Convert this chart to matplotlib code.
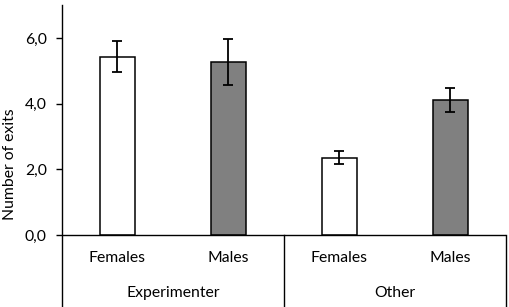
import matplotlib
matplotlib.use('Agg')
import matplotlib.pyplot as plt

# values
groups = ['Experimenter', 'Other']
sexes = ['Females', 'Males', 'Females', 'Males']
means = [5.44, 5.27, 2.36, 4.12]
errors = [0.48, 0.70, 0.20, 0.37]
bar_colors = ['white', '#808080', 'white', '#808080']
y_ticks = [0, 2, 4, 6]
y_tick_labels = ['0,0', '2,0', '4,0', '6,0']

plt.rcParams['font.family'] = ['Lato', 'DejaVu Sans']
fs = 11.3

W, H = 510, 307
fig = plt.figure(figsize=(W / 100, H / 100), dpi=100)

px_per_unit = 32.8
zero_px = 235  # pixel row of y=0 from top
y_top = 7.0
y_bottom = -(H - zero_px) / px_per_unit
top_px = zero_px - y_top * px_per_unit

ax = fig.add_axes([62 / W, 0, 444 / W, (H - top_px) / H])
x = list(range(len(means)))

ax.bar(x, means, width=0.315, color=bar_colors, edgecolor='black', linewidth=1.1, zorder=2)
ax.errorbar(x, means, yerr=errors, fmt='none', ecolor='black', elinewidth=1.3,
            capsize=3.3, capthick=1.3, zorder=3)

ax.set_xlim(-0.5, 3.5)
ax.set_ylim(y_bottom, y_top)

for s in ['top', 'right', 'bottom']:
    ax.spines[s].set_visible(False)
ax.spines['left'].set_linewidth(1.0)

ax.set_yticks(y_ticks)
ax.set_yticklabels(y_tick_labels, fontsize=fs)
ax.tick_params(axis='y', direction='out', length=4, width=1.0, pad=7)
ax.set_xticks([])

# zero line and group dividers below it
ax.axhline(0, color='black', linewidth=1.0, zorder=4)
ax.plot([1.5, 1.5], [y_bottom, 0], color='black', linewidth=1.0, clip_on=False)
ax.plot([3.5, 3.5], [y_bottom, 0], color='black', linewidth=1.0, clip_on=False)

lab_y = -(258 - zero_px) / px_per_unit
grp_y = -(293 - zero_px) / px_per_unit
for xi, s in zip(x, sexes):
    ax.text(xi, lab_y, s, ha='center', va='center', fontsize=fs)
for gi, g in enumerate(groups):
    ax.text(gi * 2 + 0.5, grp_y, g, ha='center', va='center', fontsize=fs)

fig.text(10 / W, 1 - 164 / H, 'Number of exits', rotation=90, ha='center', va='center', fontsize=fs)

fig.savefig('out.png', dpi=100)
